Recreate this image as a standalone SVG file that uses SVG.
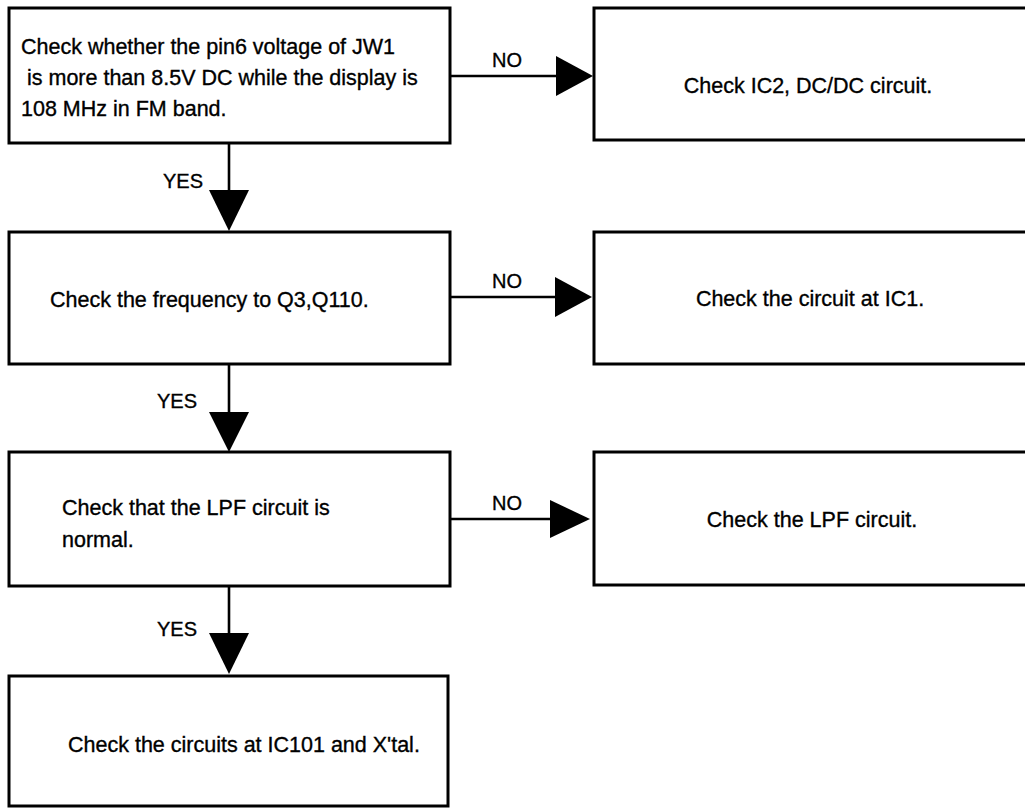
<svg xmlns="http://www.w3.org/2000/svg" width="1025" height="808" viewBox="0 0 1025 808">
  <style>
    .box { fill: #ffffff; stroke: #000000; stroke-width: 3; }
    .lbl { font-family: "Liberation Sans", Arial, Helvetica, sans-serif; font-size: 21.5px; fill: #000000; stroke: #000000; stroke-width: 0.35; }
    .yn { font-family: "Liberation Sans", Arial, Helvetica, sans-serif; font-size: 20px; fill: #000000; stroke: #000000; stroke-width: 0.35; }
    .wire { stroke: #000000; stroke-width: 2.6; fill: none; }
    .head { fill: #000000; stroke: none; }
  </style>
  <rect x="0" y="0" width="1025" height="808" fill="#ffffff"/>

  <!-- left column: checks -->
  <g id="check-pin6">
    <rect class="box" x="9" y="8" width="441" height="135"/>
    <text class="lbl" x="21" y="54">Check whether the pin6 voltage of JW1</text>
    <text class="lbl" x="21" y="85" xml:space="preserve"> is more than 8.5V DC while the display is</text>
    <text class="lbl" x="21" y="116">108 MHz in FM band.</text>
  </g>
  <g id="check-freq">
    <rect class="box" x="9" y="232" width="441" height="132"/>
    <text class="lbl" x="50" y="307">Check the frequency to Q3,Q110.</text>
  </g>
  <g id="check-lpf">
    <rect class="box" x="9" y="452" width="441" height="134"/>
    <text class="lbl" x="62" y="515">Check that the LPF circuit is</text>
    <text class="lbl" x="62" y="547">normal.</text>
  </g>
  <g id="check-ic101">
    <rect class="box" x="9" y="676" width="439" height="130"/>
    <text class="lbl" x="68" y="752">Check the circuits at IC101 and X'tal.</text>
  </g>

  <!-- right column: remedies -->
  <g id="fix-ic2">
    <rect class="box" x="594" y="8" width="440" height="132"/>
    <text class="lbl" x="808" y="93" text-anchor="middle">Check IC2, DC/DC circuit.</text>
  </g>
  <g id="fix-ic1">
    <rect class="box" x="594" y="232" width="440" height="132"/>
    <text class="lbl" x="810" y="306" text-anchor="middle">Check the circuit at IC1.</text>
  </g>
  <g id="fix-lpf">
    <rect class="box" x="594" y="452" width="440" height="133"/>
    <text class="lbl" x="812" y="527" text-anchor="middle">Check the LPF circuit.</text>
  </g>

  <!-- connectors -->
  <g id="connectors">
    <!-- NO branches -->
    <line class="wire" x1="450" y1="76" x2="560" y2="76"/>
    <polygon class="head" points="556,56 593,76 556,96"/>
    <text class="yn" x="492" y="67">NO</text>

    <line class="wire" x1="450" y1="297" x2="560" y2="297"/>
    <polygon class="head" points="555,277 592,297 555,317"/>
    <text class="yn" x="492" y="288">NO</text>

    <line class="wire" x1="450" y1="519" x2="555" y2="519"/>
    <polygon class="head" points="550,500 590,519 550,538"/>
    <text class="yn" x="492" y="510">NO</text>

    <!-- YES branches -->
    <line class="wire" x1="229" y1="143" x2="229" y2="195"/>
    <polygon class="head" points="209,190 249,190 229,231"/>
    <text class="yn" x="163" y="188">YES</text>

    <line class="wire" x1="229" y1="364" x2="229" y2="416"/>
    <polygon class="head" points="209,412 249,412 229,452"/>
    <text class="yn" x="157" y="408">YES</text>

    <line class="wire" x1="229" y1="586" x2="229" y2="638"/>
    <polygon class="head" points="209,633 249,633 229,674"/>
    <text class="yn" x="157" y="636">YES</text>
  </g>
</svg>
